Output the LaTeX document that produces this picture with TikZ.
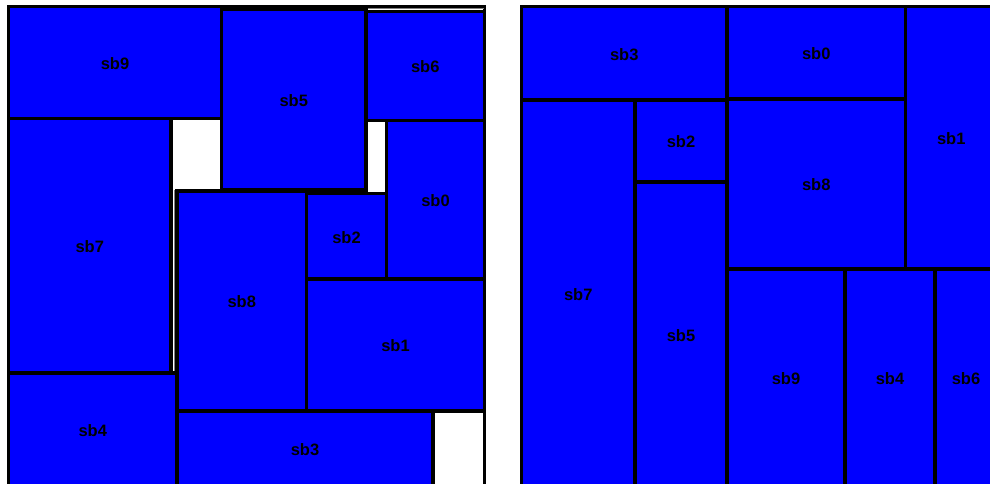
\documentclass[tikz,border=0pt]{standalone}
\usepackage{fontspec}
\setmainfont{Liberation Sans}
\begin{document}
\begin{tikzpicture}[x=1pt,y=-1pt,
  blk/.style={draw=black,fill=blue,line width=3.3pt},
  lbl/.style={font=\bfseries\fontsize{16.5}{18}\selectfont,text=black,inner sep=0pt}]
\useasboundingbox (0,0) rectangle (990,483);
\clip (0,0) rectangle (990,483);

\draw[line width=3.3pt] (8.5,6.5) rectangle (484.5,490);
\draw[gray,line width=1pt] (367,8.5) -- (484,8.5);
\draw[gray,line width=1pt] (174.5,190) -- (174.5,373);
\foreach \n/\xa/\ya/\xb/\yb in {9/8.5/6.5/221.5/118.5, 5/221.5/9/366/190, 6/366/11.5/484.5/120.5,
  7/8.5/118.5/171/373, 0/386.5/120.5/484.5/279, 8/177/191/306.5/411, 2/306.5/193.5/386.5/279,
  1/306.5/279/484.5/411, 4/8.5/373/177/487, 3/177/411/433/487}{
  \draw[blk] (\xa,\ya) rectangle (\xb,\yb);
  \node[lbl] (a\n) at ({(\xa+\xb)/2},{(\ya+\yb)/2+1}) {sb\n};
}

\draw[line width=3.3pt] (521.5,6.5) rectangle (997,490);
\foreach \n/\xa/\ya/\xb/\yb in {3/521.5/6.5/727/100, 0/727/6.5/905.5/99, 1/905.5/6.5/997/269,
  7/521.5/100/635/487, 2/635/100/727/182, 8/727/99/905.5/269, 5/635/182/727/487,
  9/727/269/845/487, 4/845/269/935/487, 6/935/269/997/487}{
  \draw[blk] (\xa,\ya) rectangle (\xb,\yb);
  \node[lbl] (b\n) at ({(\xa+\xb)/2},{(\ya+\yb)/2+1}) {sb\n};
}
\end{tikzpicture}
\end{document}
